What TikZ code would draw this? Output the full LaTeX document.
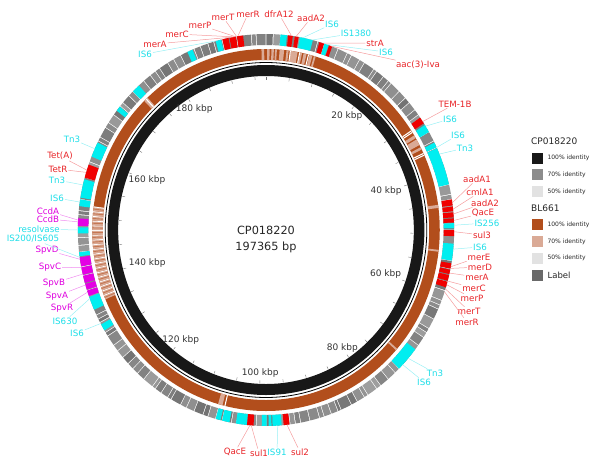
\documentclass[tikz,border=0pt]{standalone}
\usepackage{fontspec}
\setmainfont{DejaVu Sans}
\usetikzlibrary{positioning}

\definecolor{blackid}{RGB}{24,24,24}
\definecolor{greyid}{RGB}{140,140,140}
\definecolor{paleid}{RGB}{226,226,226}
\definecolor{orangeid}{RGB}{178,78,28}
\definecolor{orangelt}{RGB}{218,170,150}
\definecolor{labelgrey}{RGB}{105,105,105}
\definecolor{featred}{RGB}{240,0,0}
\definecolor{featcyan}{RGB}{0,238,240}
\definecolor{featmag}{RGB}{228,0,228}
\definecolor{genered}{RGB}{232,36,40}
\definecolor{iscyan}{RGB}{30,222,232}
\definecolor{spvmag}{RGB}{222,0,222}

% ring segment: colour, from, to (degrees clockwise from top), inner and outer radius
\newcommand{\ringseg}[5]{%
  \fill[#1] (#2-90:#4) arc[start angle=#2-90, end angle=#3-90, radius=#4]
    -- (#3-90:#5) arc[start angle=#3-90, end angle=#2-90, radius=#5] -- cycle;}

\tikzset{
  gene/.style={font=\fontsize{8.7}{9}\selectfont, inner sep=0.8pt},
  kbp/.style={font=\fontsize{9}{10}\selectfont, text=black!80, inner sep=1pt},
  leader/.style={line width=0.5pt},
  title/.style={font=\fontsize{11.3}{16}\selectfont, text=black!85, align=center},
  legbox/.style={minimum size=11pt, inner sep=0pt},
  legtext/.style={font=\fontsize{6}{7}\selectfont, text=black!85, inner sep=0pt},
  leghead/.style={font=\fontsize{9}{10}\selectfont, text=black!85, anchor=west, inner sep=0pt}
}

\begin{document}
\begin{tikzpicture}[x=1pt, y=-1pt]
  \useasboundingbox (0,0) rectangle (600,464);

  \begin{scope}[shift={(266,230)}, xscale=0.96]
    % CP018220 and BL661 identity rings
    \ringseg{blackid}{0}{360}{154}{165}
    \draw[line width=0.8pt] (0,0) circle[radius=167.5];
    \ringseg{orangeid}{0}{360}{170}{181}
    \foreach \a/\b in {358.5/359.4, 0.4/1.2, 1.8/2.6, 3.0/3.6, 4.5/6.0, 6.8/7.5, 8.2/10.5,
                       11.3/12.0, 12.5/13.5, 14.5/15.5, 16.0/16.6, 58.5/59.5, 60.0/62.0,
                       62.8/63.6, 82.0/83.0, 96.3/96.9, 131.0/131.6, 194.5/196.0, 315.5/317.0}{
      \ringseg{orangelt}{\a}{\b}{170}{181} }
    \foreach \a in {247.5,249.0,...,276.0}{
      \ringseg{orangelt}{\a}{\a+1.5}{170}{181}
      \ringseg{orangeid!55!orangelt}{\a+0.5}{\a+0.8}{170}{181}
      \ringseg{white}{\a+1.2}{\a+1.45}{170}{181} }
    \foreach \a in {7.9, 11.0, 14.0, 56.6, 57.2, 64.8, 65.4, 193.5, 316.2}{
      \ringseg{white}{\a}{\a+0.35}{170}{181} }

    % label ring: grey genes
    \pgfmathsetseed{5}
    \foreach \i in {0,...,79}{
      \pgfmathsetmacro{\a}{4.5*\i}
      \pgfmathsetmacro{\m}{\a+1+2.5*rnd}
      \pgfmathsetmacro{\ga}{int(38+18*rnd)}
      \pgfmathsetmacro{\gb}{int(38+18*rnd)}
      \ringseg{black!\ga}{\a+0.12}{\m-0.12}{185}{196}
      \ringseg{black!\gb}{\m+0.12}{\a+4.38}{185}{196} }
    % label ring: resistance genes, insertion sequences, spv and ccd genes
    \foreach \c/\a/\b in {featcyan/344.5/346.2, featred/346.6/348.5, featred/348.8/350.8,
        featred/351.1/353.0, featcyan/335.3/337.0, featcyan/315.0/317.5, featcyan/307.5/309.0,
        featcyan/4.4/6.4, featred/6.8/8.2, featred/8.8/10.0, featcyan/10.4/14.4,
        featred/16.5/18.0, featcyan/18.1/19.4, featred/19.6/20.6,
        featred/55.0/57.0, featcyan/57.6/60.0, featcyan/63.5/65.0, featcyan/65.3/76.5,
        featred/81.0/82.8, featred/83.1/84.5, featred/84.8/86.3, featred/86.6/87.8,
        featcyan/88.0/89.5, featred/90.0/91.8, featcyan/94.0/99.0,
        featred/99.8/101.4, featred/101.7/103.0, featred/103.3/105.0, featred/105.3/107.0,
        featcyan/127.5/135.0,
        featred/172.8/174.6, featcyan/175.2/178.0, featcyan/178.3/179.2, featcyan/179.8/181.3,
        featred/183.8/185.8, featcyan/185.9/189.2, featcyan/191.2/193.5, featcyan/194.0/195.5,
        featcyan/239.2/241.2, featcyan/246.0/250.0, featmag/250.3/252.0, featmag/252.3/254.0,
        featmag/254.3/256.5, featmag/256.8/259.0, featmag/259.3/262.0, featcyan/262.3/263.5,
        featcyan/269.0/270.8, featmag/271.2/273.4, featcyan/277.0/279.0, featcyan/279.5/285.0,
        featred/285.5/289.5, featcyan/292.0/296.5}{
      \ringseg{\c}{\a}{\b}{185}{196} }

    % scale (360/197.365 = 1.82403 degrees per kbp)
    \foreach \k in {0,5,...,195}{
      \draw[black!55, line width=0.4pt] (1.82403*\k-90:150.5) -- (1.82403*\k-90:153.5); }
    \foreach \k in {20,40,...,180}{
      \pgfmathsetmacro{\t}{1.82403*\k}
      \pgfmathsetmacro{\an}{mod(450-\t,360)}
      \node[kbp, anchor=\an] (kbp\k) at (\t-90:149) {\k\ kbp}; }
  \end{scope}

  \node[title] (plasmid) at (266,239) {CP018220\\197365 bp};

  % gene labels
  \foreach \n/\txt/\col/\a/\px/\py in {
      1/merA/genered/349.8/155/44, 2/merC/genered/350.2/177/34, 3/merP/genered/350.6/200/25,
      4/merT/genered/351.0/223/17, 5/merR/genered/351.4/248/14, 6/IS6/iscyan/345.1/145/54,
      7/dfrA12/genered/7.8/279/14, 8/aadA2/genered/9.2/311/18, 9/IS6/iscyan/11.3/332/24,
      10/IS1380/iscyan/14.2/356/33, 11/strA/genered/17.5/375/43, 12/IS6/iscyan/18.7/386/52,
      13/aac(3)-Iva/genered/20.3/418/65,
      14/TEM-1B/genered/56.4/455/104, 15/IS6/iscyan/58.0/450/119, 16/IS6/iscyan/65.1/458/135,
      17/Tn3/iscyan/67.2/465/148, 18/aadA1/genered/82.0/477/179, 19/cmlA1/genered/83.9/480/192,
      20/aadA2/genered/85.3/485/203, 21/QacE/genered/87.2/483/213, 22/IS256/iscyan/88.6/487/223,
      23/sul3/genered/90.5/482/235, 24/IS6/iscyan/95.6/480/247, 25/merE/genered/100.8/479/257,
      26/merD/genered/101.3/480/267, 27/merA/genered/102.7/477/277, 28/merC/genered/105.1/474/288,
      29/merP/genered/106.2/472/298, 30/merT/genered/107.5/469/311, 31/merR/genered/108.4/467/322,
      32/Tn3/iscyan/130.9/435/373, 33/IS6/iscyan/133.4/424/382,
      34/QacE/genered/184.9/235/452, 35/sul1/genered/184.5/259/453, 36/IS91/iscyan/176.4/277/452,
      37/sul2/genered/173.6/300/452,
      38/IS6/iscyan/241.5/77/333, 39/IS630/iscyan/249.5/65/321, 40/SpvR/spvmag/251.5/62/308,
      41/SpvA/spvmag/253.7/57/296, 42/SpvB/spvmag/257.0/54/283, 43/SpvC/spvmag/258.9/50/267,
      44/SpvD/spvmag/261.4/47/250, 45/{IS200/IS605}/iscyan/262.0/33/239,
      46/resolvase/iscyan/270.0/39/229, 47/CcdB/spvmag/272.4/48/219, 48/CcdA/spvmag/272.9/48/211,
      49/IS6/iscyan/278.2/57/198, 50/Tn3/iscyan/283.3/57/180, 51/TetR/genered/287.1/58/169,
      52/Tet(A)/genered/287.8/60/156, 53/Tn3/iscyan/294.5/72/139}{
    \coordinate (r\n) at ({266+0.96*196*sin(\a)},{230-196*cos(\a)});
    \node[gene, text=\col] (g\n) at (\px,\py) {\txt};
    \draw[leader, \col!45] (r\n) -- (g\n);
  }

  % legend
  \node[leghead] (legref) at (531,141.7) {CP018220};
  \node[legbox, fill=blackid] (kref1) at (537.2,158) {};
  \node[legtext, right=4.5pt of kref1] (tref1) {100\% identity};
  \node[legbox, fill=greyid, below=5.5pt of kref1] (kref2) {};
  \node[legtext, right=4.5pt of kref2] (tref2) {70\% identity};
  \node[legbox, fill=paleid, below=5.5pt of kref2] (kref3) {};
  \node[legtext, right=4.5pt of kref3] (tref3) {50\% identity};
  \node[leghead] (legqry) at (531,208.3) {BL661};
  \node[legbox, fill=orangeid] (kqry1) at (537.2,224.5) {};
  \node[legtext, right=4.5pt of kqry1] (tqry1) {100\% identity};
  \node[legbox, fill=orangelt, below=5.5pt of kqry1] (kqry2) {};
  \node[legtext, right=4.5pt of kqry2] (tqry2) {70\% identity};
  \node[legbox, fill=paleid, below=5.5pt of kqry2] (kqry3) {};
  \node[legtext, right=4.5pt of kqry3] (tqry3) {50\% identity};
  \node[legbox, fill=labelgrey, below=5.5pt of kqry3] (klab) {};
  \node[leghead, font=\fontsize{8.5}{10}\selectfont, right=4.5pt of klab] (tlab) {Label};
\end{tikzpicture}
\end{document}
